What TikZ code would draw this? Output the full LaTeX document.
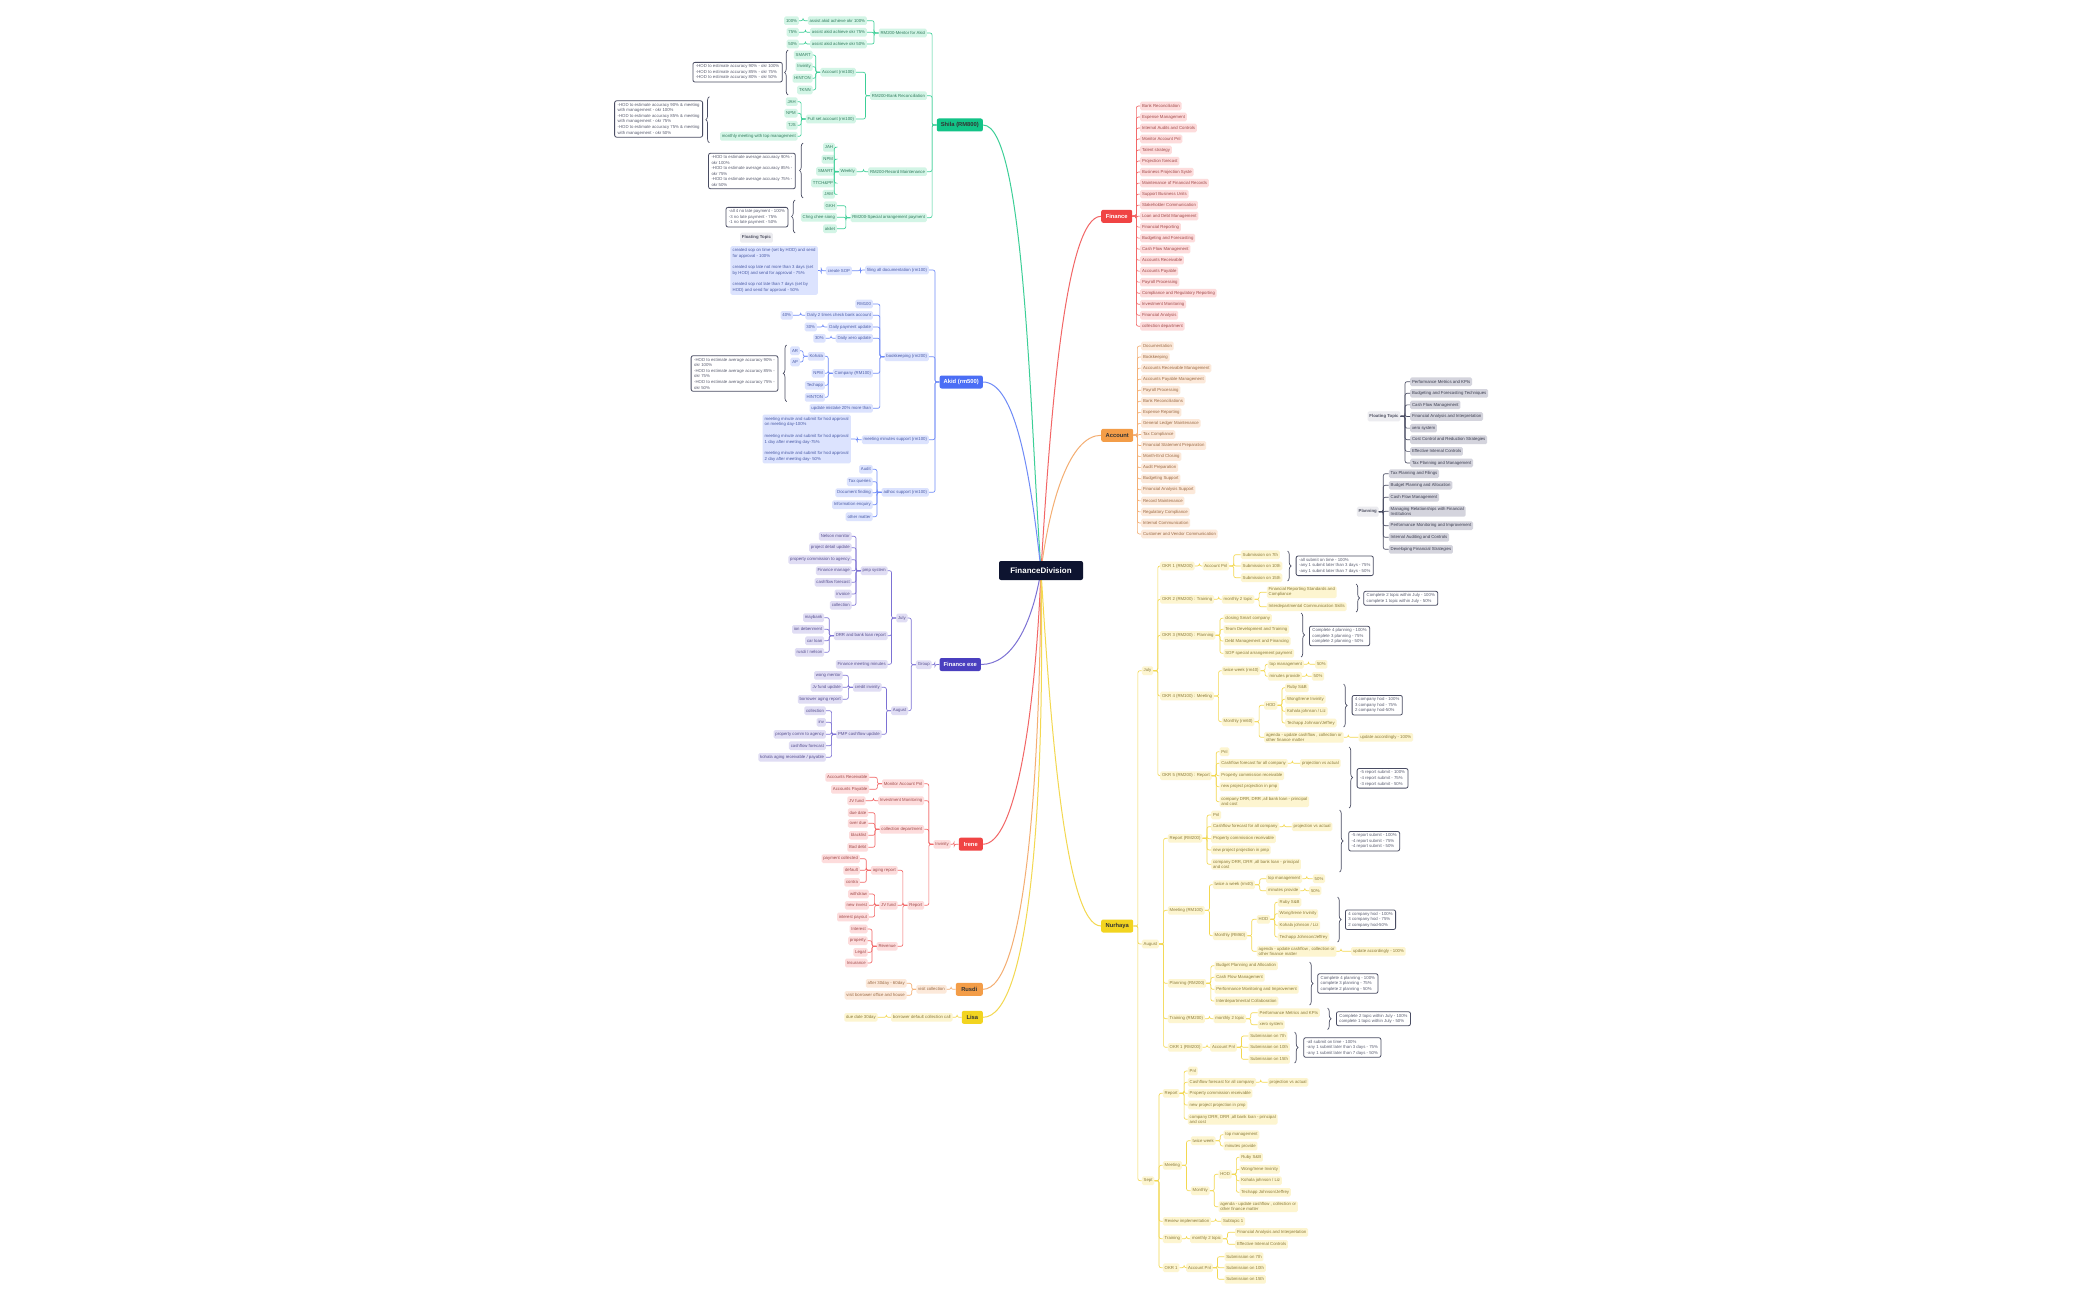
\documentclass[tikz,border=0pt]{standalone}
\usepackage{fontspec}
\setmainfont{Liberation Sans}
\usetikzlibrary{decorations.pathreplacing,calc}
\pgfdeclarelayer{bgzero}
\pgfdeclarelayer{background}
\pgfsetlayers{bgzero,background,main}
\definecolor{navy}{HTML}{0E1430}
\definecolor{gM}{HTML}{12C387}\definecolor{gL}{HTML}{3CCF97}\definecolor{gF}{HTML}{D3F5E6}\definecolor{gT}{HTML}{2F7A5C}
\definecolor{bM}{HTML}{4B6EF5}\definecolor{bL}{HTML}{6F8BF7}\definecolor{bF}{HTML}{DCE3FE}\definecolor{bT}{HTML}{4A5BA6}
\definecolor{pM}{HTML}{4A3FBF}\definecolor{pL}{HTML}{7D72D4}\definecolor{pF}{HTML}{E0DDF4}\definecolor{pT}{HTML}{57508F}
\definecolor{rM}{HTML}{F04444}\definecolor{rL}{HTML}{F26666}\definecolor{rF}{HTML}{FDDCDC}\definecolor{rT}{HTML}{A04A4A}
\definecolor{oM}{HTML}{F39D48}\definecolor{oL}{HTML}{F4AE72}\definecolor{oF}{HTML}{FCE9DA}\definecolor{oT}{HTML}{9A6A45}
\definecolor{yM}{HTML}{F2D420}\definecolor{yL}{HTML}{F3D850}\definecolor{yF}{HTML}{FDF5D0}\definecolor{yT}{HTML}{8A7A3A}
\definecolor{sumC}{HTML}{4A4D63}\definecolor{sumT}{HTML}{5A5D70}
\definecolor{ftF}{HTML}{ECECF0}\definecolor{ftT}{HTML}{505263}\definecolor{fcF}{HTML}{D4D4DD}\definecolor{fcT}{HTML}{3A3C4E}
\tikzset{
 sub/.style={rounded corners=1.5pt, inner xsep=1.8pt, inner ysep=1.2pt, minimum height=8.6pt, align=left, font=\fontsize{4.3}{5.2}\selectfont},
 gs/.style={sub, fill=gF, text=gT}, bs/.style={sub, fill=bF, text=bT}, ps/.style={sub, fill=pF, text=pT},
 rs/.style={sub, fill=rF, text=rT}, os/.style={sub, fill=oF, text=oT}, ys/.style={sub, fill=yF, text=yT},
 fts/.style={sub, fill=ftF, text=ftT, font=\fontsize{4.3}{5.2}\selectfont\bfseries, minimum height=10pt},
 fcs/.style={sub, fill=fcF, text=fcT},
 blk/.style={rounded corners=1.5pt, inner sep=2.2pt, align=left, font=\fontsize{4.3}{5.8}\selectfont},
 ln/.style={line width=0.65pt, rounded corners=2pt},
 gl/.style={ln, draw=gL}, bl/.style={ln, draw=bL}, pl/.style={ln, draw=pL}, rl/.style={ln, draw=rL},
 ol/.style={ln, draw=oL}, yl/.style={ln, draw=yL}, fl/.style={ln, draw=sumC},
 sum/.style={draw=sumC, line width=0.8pt, fill=white, rounded corners=2pt, align=left, font=\fontsize{4.3}{5.6}\selectfont, text=sumT, inner xsep=3pt, inner ysep=2.2pt},
 brc/.style={decorate, decoration={brace, amplitude=3.5pt}, draw=sumC, line width=0.7pt},
 mainnode/.style={rounded corners=2pt, minimum height=13pt, inner xsep=4pt, font=\fontsize{5.8}{7}\selectfont\bfseries},
 curve/.style={line width=1pt},
}
\newcommand\Lnode[4]{\node[#1,anchor=east] (#2) at (#3) {#4};}
\newcommand\Rnode[4]{\node[#1,anchor=west] (#2) at (#3) {#4};}
\newcommand\Lk[3]{\foreach \ch in {#3}{\draw[#1] (#2.west) -- ++(-4.5,0) |- (\ch.east);}}
\newcommand\Rk[3]{\foreach \ch in {#3}{\draw[#1] (#2.east) -- ++(4.5,0) |- (\ch.west);}}
\begin{document}
\begin{tikzpicture}[x=1pt,y=-1pt]
\begin{pgfonlayer}{bgzero}
\fill[white] (0,0) rectangle (2100,1300);
\end{pgfonlayer}
\useasboundingbox (0,0) rectangle (2100,1300);
% centre
\node[fill=navy, text=white, rounded corners=2pt, minimum width=84pt, minimum height=19pt, font=\fontsize{8}{9}\selectfont\bfseries] (fd) at (1041,570.5) {FinanceDivision};
% main branches
\node[mainnode, anchor=east, fill=gM, text=black!80] (shila) at (983,125) {Shila (RM800)};
\node[mainnode, anchor=east, fill=bM, text=white] (akid) at (983,382) {Akid (rm500)};
\node[mainnode, anchor=east, fill=pM, text=white] (fexe) at (981,664.5) {Finance exe};
\node[mainnode, anchor=east, fill=rM, text=white, minimum width=24pt] (irene) at (983,844.2) {Irene};
\node[mainnode, anchor=east, fill=oM, text=black!80, minimum width=27pt] (rusdi) at (983,989.3) {Rusdi};
\node[mainnode, anchor=east, fill=yM, text=black!80, minimum width=21pt] (lisa) at (983,1017.3) {Lisa};
\node[mainnode, anchor=west, fill=rM, text=white, minimum width=31pt] (finance) at (1101,216.3) {Finance};
\node[mainnode, anchor=west, fill=oM, text=black!80, minimum width=32pt] (account) at (1101,435.3) {Account};
\node[mainnode, anchor=west, fill=yM, text=black!80, minimum width=32pt] (nurhaya) at (1101,926) {Nurhaya};
\begin{pgfonlayer}{background}
\draw[curve, draw=gL] (fd.center) .. controls (1030,420) and (1025,125) .. (shila.east);
\draw[curve, draw=bL] (fd.center) .. controls (1030,470) and (1015,382) .. (akid.east);
\draw[curve, draw=pL] (fd.center) .. controls (1032,625) and (1012,664.5) .. (fexe.east);
\draw[curve, draw=rL] (fd.center) .. controls (1035,720) and (1015,844.2) .. (irene.east);
\draw[curve, draw=oL] (fd.center) .. controls (1040,780) and (1025,989.3) .. (rusdi.east);
\draw[curve, draw=yL] (fd.center) .. controls (1045,800) and (1030,1017.3) .. (lisa.east);
\draw[curve, draw=rL] (fd.center) .. controls (1050,420) and (1065,216.3) .. (finance.west);
\draw[curve, draw=oL] (fd.center) .. controls (1050,500) and (1070,435.3) .. (account.west);
\draw[curve, draw=yL] (fd.center) .. controls (1050,720) and (1065,926) .. (nurhaya.west);
\end{pgfonlayer}
% ================= Shila
\Lnode{gs}{sA}{927,33}{RM200-Mentor for Akid}
\Lnode{gs}{sA1}{867,20.7}{assist akid achieve okr 100\%}
\Lnode{gs}{sA2}{867,32.3}{assist akid achieve okr 75\%}
\Lnode{gs}{sA3}{867,44}{assist akid achieve okr 50\%}
\Lnode{gs}{sA1a}{799,20.7}{100\%}
\Lnode{gs}{sA2a}{799,32.3}{75\%}
\Lnode{gs}{sA3a}{799,44}{50\%}
\Lnode{gs}{sB}{927,95.7}{RM200-Bank Reconciliation}
\Lnode{gs}{sB1}{856,72.3}{Account (rm100)}
\Lnode{gs}{sB1a}{812.7,55}{SMART}
\Lnode{gs}{sB1b}{812.7,66.7}{Invinity}
\Lnode{gs}{sB1c}{812.7,78.3}{HINTON}
\Lnode{gs}{sB1d}{812.7,90}{TKNN}
\Lnode{gs}{sB2}{856,119}{Full set account (rm100)}
\Lnode{gs}{sB2a}{797.7,101.7}{JAH}
\Lnode{gs}{sB2b}{797.7,113.3}{NPM}
\Lnode{gs}{sB2c}{797.7,125.3}{TJS}
\Lnode{gs}{sB2d}{797.7,136.3}{monthly meeting with top management}
\Lnode{gs}{sC}{927,171.7}{RM200-Record Maintenance}
\Lnode{gs}{sC1}{856.7,171.7}{Weekly}
\Lnode{gs}{sC1a}{835,147.3}{JAH}
\Lnode{gs}{sC1b}{835,159.3}{NPM}
\Lnode{gs}{sC1c}{835,171.3}{SMART}
\Lnode{gs}{sC1d}{835,183}{TTCH\&PP}
\Lnode{gs}{sC1e}{835,194.3}{JAM}
\Lnode{gs}{sD}{927,217.7}{RM200-Special arrangement payment}
\Lnode{gs}{sD1}{837,205.7}{GKH}
\Lnode{gs}{sD2}{837,217.3}{Chng chee siong}
\Lnode{gs}{sD3}{837,228.7}{akilet}
\Lk{gl}{shila}{sA,sB,sC,sD}
\Lk{gl}{sA}{sA1,sA2,sA3}
\Lk{gl}{sA1}{sA1a}\Lk{gl}{sA2}{sA2a}\Lk{gl}{sA3}{sA3a}
\Lk{gl}{sB}{sB1,sB2}
\Lk{gl}{sB1}{sB1a,sB1b,sB1c,sB1d}
\Lk{gl}{sB2}{sB2a,sB2b,sB2c,sB2d}
\Lk{gl}{sC}{sC1}
\Lk{gl}{sC1}{sC1a,sC1b,sC1c,sC1d,sC1e}
\Lk{gl}{sD}{sD1,sD2,sD3}
\node[sum,anchor=east] (sBs1) at (782.7,72.2) {-HOD to estimate accuracy 90\% - okr 100\%\\-HOD to estimate accuracy 85\% - okr 75\%\\-HOD to estimate accuracy 80\% - okr 50\%};
\node[sum,anchor=east] (sBs2) at (703,119) {-HOD to estimate accuracy 90\% \& meeting\\with management - okr 100\%\\-HOD to estimate accuracy 85\% \& meeting\\with management - okr 75\%\\-HOD to estimate accuracy 75\% \& meeting\\with management - okr 50\%};
\node[sum,anchor=east] (sCs) at (795.7,171) {-HOD to estimate average accuracy 90\% -\\okr 100\%\\-HOD to estimate average accuracy 85\% -\\okr 75\%\\-HOD to estimate average accuracy 75\% -\\okr 50\%};
\node[sum,anchor=east] (sDs) at (788.3,217.2) {-all 4 no late payment - 100\%\\-3 no late payment - 75\%\\-1 no late payment - 50\%};
\draw[brc] (788,95) -- (788,50);
\draw[brc] (709.3,142.7) -- (709.3,96.7);
\draw[brc] (803,198) -- (803,143);
\draw[brc] (795,233) -- (795,200);
\node[fts] (flt1) at (756.5,237.7) {Floating Topic};
% ================= Akid
\Lnode{bs}{aA}{929,270}{filing all documentation (rm100)}
\Lnode{bs}{aA1}{852,270.7}{create SOP}
\node[blk, fill=bF, text=bT, anchor=east] (aA1t) at (818,270.5) {created sop on time (set by HOD) and send\\for approval - 100\%\\[5.6pt]created sop late not more than 3 days (set\\by HOD) and send for approval - 75\%\\[5.6pt]created sop not late than 7 days (set by\\HOD) and send for approval - 50\%};
\Lnode{bs}{aB}{929,356.7}{bookkeeping (rm200)}
\Lnode{bs}{aB1}{873,304}{RM100}
\Lnode{bs}{aB2}{873,315.3}{Daily 2 times check bank account}
\Lnode{bs}{aB2a}{793,315.3}{40\%}
\Lnode{bs}{aB3}{873,327}{Daily payment update}
\Lnode{bs}{aB3a}{817,327}{30\%}
\Lnode{bs}{aB4}{873,338.3}{Daily xero update}
\Lnode{bs}{aB4a}{825.7,338.3}{30\%}
\Lnode{bs}{aB5}{873,373.3}{Company (RM100)}
\Lnode{bs}{aB5a}{825,356.3}{Kohala}
\Lnode{bs}{aB5a1}{800,350.7}{AR}
\Lnode{bs}{aB5a2}{800,362}{AP}
\Lnode{bs}{aB5b}{825,373.3}{NPM}
\Lnode{bs}{aB5c}{825,385.3}{Techapp}
\Lnode{bs}{aB5d}{825,397.3}{HINTON}
\Lnode{bs}{aB6}{873,408.3}{update mistake 20\% more than}
\Lnode{bs}{aC}{929,439.7}{meeting minutes support (rm100)}
\node[blk, fill=bF, text=bT, anchor=east] (aC1) at (851,439) {meeting minute and submit for hod approval\\on meeting day-100\%\\[5.6pt]meeting minute and submit for hod approval\\1 day after meeting day-75\%\\[5.6pt]meeting minute and submit for hod approval\\2 day after meeting day- 50\%};
\Lnode{bs}{aD}{929,492.3}{adhoc support (rm100)}
\Lnode{bs}{aD1}{872.7,469.3}{Audit}
\Lnode{bs}{aD2}{872.7,481.7}{Tax queries}
\Lnode{bs}{aD3}{872.7,492.7}{Document finding}
\Lnode{bs}{aD4}{872.7,504.7}{Information enquiry}
\Lnode{bs}{aD5}{872.7,516.7}{other matter}
\Lk{bl}{akid}{aA,aB,aC,aD}
\Lk{bl}{aA}{aA1}\Lk{bl}{aA1}{aA1t}
\Lk{bl}{aB}{aB1,aB2,aB3,aB4,aB5,aB6}
\Lk{bl}{aB2}{aB2a}\Lk{bl}{aB3}{aB3a}\Lk{bl}{aB4}{aB4a}
\Lk{bl}{aB5}{aB5a,aB5b,aB5c,aB5d}
\Lk{bl}{aB5a}{aB5a1,aB5a2}
\Lk{bl}{aC}{aC1}
\Lk{bl}{aD}{aD1,aD2,aD3,aD4,aD5}
\node[sum,anchor=east] (aBs) at (778.3,373.5) {-HOD to estimate average accuracy 90\% -\\okr 100\%\\-HOD to estimate average accuracy 85\% -\\okr 75\%\\-HOD to estimate average accuracy 75\% -\\okr 50\%};
\draw[brc] (786.7,401.7) -- (786.7,345);
% ================= Finance exe
\Lnode{ps}{fG}{931.7,664.7}{Group}
\Lnode{ps}{fJ}{907.7,618}{July}
\Lnode{ps}{fAu}{908.3,710.7}{August}
\Lnode{ps}{fJ1}{887.7,570.7}{pmp system}
\Lnode{ps}{fJ1a}{851.7,536.3}{Nelson monitor}
\Lnode{ps}{fJ1b}{851.7,547.7}{project detail update}
\Lnode{ps}{fJ1c}{851.7,559.7}{property commission to agency}
\Lnode{ps}{fJ1d}{851.7,570.7}{Finance manage}
\Lnode{ps}{fJ1e}{851.7,582.3}{cashflow forecast}
\Lnode{ps}{fJ1f}{851.7,594}{invoice}
\Lnode{ps}{fJ1g}{851.7,605.3}{collection}
\Lnode{ps}{fJ2}{887.7,635.7}{DRR and bank loan report}
\Lnode{ps}{fJ2a}{824.3,617.7}{maybank}
\Lnode{ps}{fJ2b}{824.3,629.3}{ion debenment}
\Lnode{ps}{fJ2c}{824.3,640.7}{car loan}
\Lnode{ps}{fJ2d}{824.3,652.3}{rusdi / nelson}
\Lnode{ps}{fJ3}{887.7,664.3}{Finance meeting minutes}
\Lnode{ps}{fA1}{881.7,687.3}{credit invinity}
\Lnode{ps}{fA1a}{842.7,675.3}{wong mentor}
\Lnode{ps}{fA1b}{842.7,687.3}{Jv fund update}
\Lnode{ps}{fA1c}{842.7,699.3}{borrower aging report}
\Lnode{ps}{fA2}{881.7,734.3}{PMP cashflow update}
\Lnode{ps}{fA2a}{826,710.7}{collection}
\Lnode{ps}{fA2b}{826,722.3}{inv}
\Lnode{ps}{fA2c}{826,734.3}{property comm to agency}
\Lnode{ps}{fA2d}{826,745.7}{cashflow forecast}
\Lnode{ps}{fA2e}{826,757.3}{kohala aging receivable / payable}
\Lk{pl}{fexe}{fG}
\Lk{pl}{fG}{fJ,fAu}
\Lk{pl}{fJ}{fJ1,fJ2,fJ3}
\Lk{pl}{fJ1}{fJ1a,fJ1b,fJ1c,fJ1d,fJ1e,fJ1f,fJ1g}
\Lk{pl}{fJ2}{fJ2a,fJ2b,fJ2c,fJ2d}
\Lk{pl}{fAu}{fA1,fA2}
\Lk{pl}{fA1}{fA1a,fA1b,fA1c}
\Lk{pl}{fA2}{fA2a,fA2b,fA2c,fA2d,fA2e}
% ================= Irene
\Lnode{rs}{iI}{950.7,844.3}{Invinity}
\Lnode{rs}{iM}{924.3,783.7}{Monitor Account Pnl}
\Lnode{rs}{iM1}{869.3,777.3}{Accounts Receivable}
\Lnode{rs}{iM2}{869.3,789.3}{Accounts Payable}
\Lnode{rs}{iV}{924.3,800.7}{Investment Monitoring}
\Lnode{rs}{iV1}{865.7,800.7}{JV fund}
\Lnode{rs}{iC}{924.3,829.3}{collection department}
\Lnode{rs}{iC1}{868.3,812.7}{due date}
\Lnode{rs}{iC2}{868.3,823.3}{over due}
\Lnode{rs}{iC3}{868.3,835.3}{blacklist}
\Lnode{rs}{iC4}{868.3,847.3}{Bad debt}
\Lnode{rs}{iR}{924.3,905.3}{Report}
\Lnode{rs}{iR1}{897.7,870.3}{aging report}
\Lnode{rs}{iR1a}{860,858.7}{payment collected}
\Lnode{rs}{iR1b}{860,870.3}{default}
\Lnode{rs}{iR1c}{860,882.3}{contra}
\Lnode{rs}{iR2}{897.7,905.3}{JV fund}
\Lnode{rs}{iR2a}{869,894}{withdraw}
\Lnode{rs}{iR2b}{869,905.3}{new invest}
\Lnode{rs}{iR2c}{869,917}{interest payout}
\Lnode{rs}{iR3}{897.7,946.3}{Revenue}
\Lnode{rs}{iR3a}{867.7,929}{Interest}
\Lnode{rs}{iR3b}{867.7,940.7}{property}
\Lnode{rs}{iR3c}{867.7,952.3}{Legal}
\Lnode{rs}{iR3d}{867.7,963}{Insurance}
\Lk{rl}{irene}{iI}
\Lk{rl}{iI}{iM,iV,iC,iR}
\Lk{rl}{iM}{iM1,iM2}\Lk{rl}{iV}{iV1}
\Lk{rl}{iC}{iC1,iC2,iC3,iC4}
\Lk{rl}{iR}{iR1,iR2,iR3}
\Lk{rl}{iR1}{iR1a,iR1b,iR1c}
\Lk{rl}{iR2}{iR2a,iR2b,iR2c}
\Lk{rl}{iR3}{iR3a,iR3b,iR3c,iR3d}
% ================= Rusdi, Lisa
\Lnode{os}{rV}{946.7,989.3}{visit collection}
\Lnode{os}{rV1}{906.7,983.3}{after 30day - 60day}
\Lnode{os}{rV2}{906.7,995.3}{visit borrower office and house}
\Lk{ol}{rusdi}{rV}\Lk{ol}{rV}{rV1,rV2}
\Lnode{ys}{lB}{952.7,1017.3}{borrower default collection call}
\Lnode{ys}{lB1}{877.7,1017.3}{due date 30day}
\Lk{yl}{lisa}{lB}\Lk{yl}{lB}{lB1}
% ================= Finance list
\foreach \t [count=\i] in {Bank Reconciliation,Expense Management,Internal Audits and Controls,Monitor Account Pnl,Talent strategy,Projection forecast,Business Projection Syste,Maintenance of Financial Records,Support Business Units,Stakeholder Communication,Loan and Debt Management,Financial Reporting,Budgeting and Forecasting,Cash Flow Management,Accounts Receivable,Accounts Payable,Payroll Processing,Compliance and Regulatory Reporting,Investment Monitoring,Financial Analysis,collection department}
 {\node[rs,anchor=west] (fin\i) at (1140,{95+11.01*\i}) {\t};
  \draw[rl] (finance.east) -- ++(4,0) |- (fin\i.west);}
% ================= Account list
\foreach \t [count=\i] in {Documentation,Bookkeeping,Accounts Receivable Management,Accounts Payable Management,Payroll Processing,Bank Reconciliations,Expense Reporting,General Ledger Maintenance,Tax Compliance,Financial Statement Preparation,Month-End Closing,Audit Preparation,Budgeting Support,Financial Analysis Support,Record Maintenance,Regulatory Compliance,Internal Communication,Customer and Vendor Communication}
 {\node[os,anchor=west] (acc\i) at (1141,{334.94+11.06*\i}) {\t};
  \draw[ol] (account.east) -- ++(4,0) |- (acc\i.west);}
% ================= Floating topic / Planning (right)
\node[fts] (flt2) at (1384,416.3) {Floating Topic};
\foreach \t [count=\i] in {Performance Metrics and KPIs,Budgeting and Forecasting Techniques,Cash Flow Management,Financial Analysis and Interpretation,xero system,Cost Control and Reduction Strategies,Effective Internal Controls,Tax Planning and Management}
 {\node[fcs,anchor=west] (ftc\i) at (1410,{370.09+11.61*\i}) {\t};
  \draw[fl] (flt2.east) -- ++(4.5,0) |- (ftc\i.west);}
\node[fts] (plan) at (1367.7,511.7) {Planning};
\Rnode{fcs}{pl1}{1388.7,473.7}{Tax Planning and Filings}
\Rnode{fcs}{pl2}{1388.7,485.3}{Budget Planning and Allocation}
\Rnode{fcs}{pl3}{1388.7,497.3}{Cash Flow Management}
\Rnode{fcs}{pl4}{1388.7,511.3}{Managing Relationships with Financial\\Institutions}
\Rnode{fcs}{pl5}{1388.7,525.7}{Performance Monitoring and Improvement}
\Rnode{fcs}{pl6}{1388.7,537.3}{Internal Auditing and Controls}
\Rnode{fcs}{pl7}{1388.7,549.3}{Developing Financial Strategies}
\Rk{fl}{plan}{pl1,pl2,pl3,pl4,pl5,pl6,pl7}
% ================= Nurhaya : July
\Rnode{ys}{jul}{1141.7,670.7}{July}
\Rnode{ys}{j1}{1160,566}{OKR 1 (RM200)}
\Rnode{ys}{j1a}{1202.3,566}{Account Pnl}
\Rnode{ys}{j1a1}{1240.7,554.7}{Submission on 7th}
\Rnode{ys}{j1a2}{1240.7,566}{Submission on 10th}
\Rnode{ys}{j1a3}{1240.7,577.7}{Submission on 15th}
\Rnode{ys}{j2}{1160,599.3}{OKR 2 (RM200) : Training}
\Rnode{ys}{j2a}{1221.7,599.3}{monthly 2 topic}
\Rnode{ys}{j2a1}{1266.7,592.2}{Financial Reporting Standards and\\Compliance}
\Rnode{ys}{j2a2}{1266.7,606.7}{Interdepartmental Communication Skills}
\Rnode{ys}{j3}{1160,635.3}{OKR 3 (RM200) : Planning}
\Rnode{ys}{j3a}{1223.3,618.3}{closing Smart company}
\Rnode{ys}{j3b}{1223.3,629.3}{Team Development and Training}
\Rnode{ys}{j3c}{1223.3,641}{Debt Management and Financing}
\Rnode{ys}{j3d}{1223.3,653.3}{SOP special arrangement payment}
\Rnode{ys}{j4}{1160,696}{OKR 4 (RM100) : Meeting}
\Rnode{ys}{j4a}{1221.7,670.7}{twice week (rm40)}
\Rnode{ys}{j4a1}{1267.7,664.3}{top management}
\Rnode{ys}{j4a1a}{1315,664.3}{50\%}
\Rnode{ys}{j4a2}{1267.7,676.3}{minutes provide}
\Rnode{ys}{j4a2a}{1311.7,676.3}{50\%}
\Rnode{ys}{j4b}{1221.7,721.7}{Monthly (rm60)}
\Rnode{ys}{j4b1}{1264,705.3}{HOD}
\Rnode{ys}{j4h1}{1285,687.7}{Ruby S\&B}
\Rnode{ys}{j4h2}{1285,699.3}{Wong/Irene Invinity}
\Rnode{ys}{j4h3}{1285,711.3}{Kohala johnson / Liz}
\Rnode{ys}{j4h4}{1285,723}{Techapp Johnson/Jeffrey}
\Rnode{ys}{j4b2}{1264,737.3}{agenda - update cashflow , collection or\\other finance matter}
\Rnode{ys}{j4b2a}{1358.3,737.3}{update accordingly - 100\%}
\Rnode{ys}{j5}{1160,775.7}{OKR 5 (RM200) : Report}
\Rnode{ys}{j5a}{1219.3,751.7}{Pnl}
\Rnode{ys}{j5b}{1219.3,763.3}{Cashflow forecast for all company}
\Rnode{ys}{j5b1}{1300,763.3}{projection vs actual}
\Rnode{ys}{j5c}{1219.3,775.7}{Property commission receivable}
\Rnode{ys}{j5d}{1219.3,786.7}{new project projection in pmp}
\Rnode{ys}{j5e}{1219.3,801.7}{company DRR, DRR ,all bank loan - principal\\and cost}
\Rk{yl}{jul}{j1,j2,j3,j4,j5}
\Rk{yl}{j1}{j1a}\Rk{yl}{j1a}{j1a1,j1a2,j1a3}
\Rk{yl}{j2}{j2a}\Rk{yl}{j2a}{j2a1,j2a2}
\Rk{yl}{j3}{j3a,j3b,j3c,j3d}
\Rk{yl}{j4}{j4a,j4b}\Rk{yl}{j4a}{j4a1,j4a2}\Rk{yl}{j4a1}{j4a1a}\Rk{yl}{j4a2}{j4a2a}
\Rk{yl}{j4b}{j4b1,j4b2}\Rk{yl}{j4b1}{j4h1,j4h2,j4h3,j4h4}\Rk{yl}{j4b2}{j4b2a}
\Rk{yl}{j5}{j5a,j5b,j5c,j5d,j5e}\Rk{yl}{j5b}{j5b1}
\draw[brc] (1287.5,551) -- (1287.5,581);
\node[sum,anchor=west] (j1s) at (1295.7,565.8) {-all submit on time - 100\%\\-any 1 submit later than 3 days - 75\%\\-any 1 submit later than 7 days - 50\%};
\draw[brc] (1356,584) -- (1356,612);
\node[sum,anchor=west] (j2s) at (1363.3,598.3) {Complete 2 topic within July - 100\%\\complete 1 topic within July - 50\%};
\draw[brc] (1301,613) -- (1301,657);
\node[sum,anchor=west] (j3s) at (1309,636) {Complete 4 planning - 100\%\\complete 3 planning - 75\%\\complete 2 planning - 50\%};
\draw[brc] (1343.5,684) -- (1343.5,727);
\node[sum,anchor=west] (j4s) at (1351.7,705.2) {4 company hod - 100\%\\3 company hod - 75\%\\2 company hod-50\%};
\draw[brc] (1349,747) -- (1349,808);
\node[sum,anchor=west] (j5s) at (1356.7,778.3) {-5 report submit - 100\%\\-4 report submit - 75\%\\-3 report submit - 50\%};
% ================= August
\Rnode{ys}{aug}{1141.7,944}{August}
\Rnode{ys}{g1}{1167.7,838.3}{Report (RM200)}
\Rnode{ys}{g1a}{1211,815}{Pnl}
\Rnode{ys}{g1b}{1211,826.7}{Cashflow forecast for all company}
\Rnode{ys}{g1b1}{1291.7,826.7}{projection vs actual}
\Rnode{ys}{g1c}{1211,838.7}{Property commission receivable}
\Rnode{ys}{g1d}{1211,850}{new project projection in pmp}
\Rnode{ys}{g1e}{1211,864.3}{company DRR, DRR ,all bank loan - principal\\and cost}
\Rnode{ys}{g2}{1167.7,910.3}{Meeting (RM100)}
\Rnode{ys}{g2a}{1212.7,884.7}{twice a week (rm40)}
\Rnode{ys}{g2a1}{1266,878.7}{top management}
\Rnode{ys}{g2a1a}{1312.7,878.7}{50\%}
\Rnode{ys}{g2a2}{1266,890.7}{minutes provide}
\Rnode{ys}{g2a2a}{1309,890.7}{50\%}
\Rnode{ys}{g2b}{1212.7,935.7}{Monthly (RM60)}
\Rnode{ys}{g2b1}{1256.7,919.3}{HOD}
\Rnode{ys}{g2h1}{1277.7,902.3}{Ruby S\&B}
\Rnode{ys}{g2h2}{1277.7,913.7}{Wong/Irene Invinity}
\Rnode{ys}{g2h3}{1277.7,925.3}{Kohala johnson / Liz}
\Rnode{ys}{g2h4}{1277.7,937}{Techapp Johnson/Jeffrey}
\Rnode{ys}{g2b2}{1256.7,951.3}{agenda - update cashflow , collection or\\other finance matter}
\Rnode{ys}{g2b2a}{1351,951.3}{update accordingly - 100\%}
\Rnode{ys}{g3}{1167.7,983.3}{Planning (RM200)}
\Rnode{ys}{g3a}{1214.3,965.7}{Budget Planning and Allocation}
\Rnode{ys}{g3b}{1214.3,977.3}{Cash Flow Management}
\Rnode{ys}{g3c}{1214.3,989.3}{Performance Monitoring and Improvement}
\Rnode{ys}{g3d}{1214.3,1001}{Interdepartmental Collaboration}
\Rnode{ys}{g4}{1167.7,1018.7}{Training (RM200)}
\Rnode{ys}{g4a}{1213.3,1018.7}{monthly 2 topic}
\Rnode{ys}{g4a1}{1257.7,1012.7}{Performance Metrics and KPIs}
\Rnode{ys}{g4a2}{1257.7,1024.7}{xero system}
\Rnode{ys}{g5}{1167.7,1047.3}{OKR 1 (RM200)}
\Rnode{ys}{g5a}{1210,1047.3}{Account Pnl}
\Rnode{ys}{g5a1}{1248.3,1036}{Submission on 7th}
\Rnode{ys}{g5a2}{1248.3,1047.3}{Submission on 10th}
\Rnode{ys}{g5a3}{1248.3,1059.3}{Submission on 15th}
\Rk{yl}{aug}{g1,g2,g3,g4,g5}
\Rk{yl}{g1}{g1a,g1b,g1c,g1d,g1e}\Rk{yl}{g1b}{g1b1}
\Rk{yl}{g2}{g2a,g2b}\Rk{yl}{g2a}{g2a1,g2a2}\Rk{yl}{g2a1}{g2a1a}\Rk{yl}{g2a2}{g2a2a}
\Rk{yl}{g2b}{g2b1,g2b2}\Rk{yl}{g2b1}{g2h1,g2h2,g2h3,g2h4}\Rk{yl}{g2b2}{g2b2a}
\Rk{yl}{g3}{g3a,g3b,g3c,g3d}
\Rk{yl}{g4}{g4a}\Rk{yl}{g4a}{g4a1,g4a2}
\Rk{yl}{g5}{g5a}\Rk{yl}{g5a}{g5a1,g5a2,g5a3}
\draw[brc] (1339.5,810) -- (1339.5,872);
\node[sum,anchor=west] (g1s) at (1348.3,841.2) {-5 report submit - 100\%\\-4 report submit - 75\%\\-4 report submit - 50\%};
\draw[brc] (1337.5,897) -- (1337.5,942);
\node[sum,anchor=west] (g2s) at (1345,919.7) {4 company hod - 100\%\\3 company hod - 75\%\\2 company hod-50\%};
\draw[brc] (1309.5,962) -- (1309.5,1005);
\node[sum,anchor=west] (g3s) at (1317.3,983.5) {Complete 4 planning - 100\%\\complete 3 planning - 75\%\\complete 2 planning - 50\%};
\draw[brc] (1327.5,1008) -- (1327.5,1029.5);
\node[sum,anchor=west] (g4s) at (1336,1018.7) {Complete 2 topic within July - 100\%\\complete 1 topic within July - 50\%};
\draw[brc] (1294.5,1032) -- (1294.5,1063);
\node[sum,anchor=west] (g5s) at (1303.3,1047.5) {-all submit on time - 100\%\\-any 1 submit later than 3 days - 75\%\\-any 1 submit later than 7 days - 50\%};
% ================= Sept
\Rnode{ys}{sep}{1141.7,1180.7}{Sept}
\Rnode{ys}{e1}{1162.7,1093.3}{Report}
\Rnode{ys}{e1a}{1187.7,1071}{Pnl}
\Rnode{ys}{e1b}{1187.7,1082.3}{Cashflow forecast for all company}
\Rnode{ys}{e1b1}{1267.7,1082.3}{projection vs actual}
\Rnode{ys}{e1c}{1187.7,1093.3}{Property commission receivable}
\Rnode{ys}{e1d}{1187.7,1105}{new project projection in pmp}
\Rnode{ys}{e1e}{1187.7,1119.3}{company DRR, DRR ,all bank loan - principal\\and cost}
\Rnode{ys}{e2}{1162.7,1165.3}{Meeting}
\Rnode{ys}{e2a}{1190.7,1140.7}{twice week}
\Rnode{ys}{e2a1}{1223.3,1134.7}{top management}
\Rnode{ys}{e2a2}{1223.3,1146}{minutes provide}
\Rnode{ys}{e2b}{1190.7,1190.7}{Monthly}
\Rnode{ys}{e2b1}{1218.3,1174.3}{HOD}
\Rnode{ys}{e2h1}{1239.3,1157.3}{Ruby S\&B}
\Rnode{ys}{e2h2}{1239.3,1169.3}{Wong/Irene Invinity}
\Rnode{ys}{e2h3}{1239.3,1180.7}{Kohala johnson / Liz}
\Rnode{ys}{e2h4}{1239.3,1192.3}{Techapp Johnson/Jeffrey}
\Rnode{ys}{e2b2}{1218.3,1206.7}{agenda - update cashflow , collection or\\other finance matter}
\Rnode{ys}{e3}{1162.7,1221.3}{Review implementation}
\Rnode{ys}{e3a}{1221,1221.3}{Subtopic 1}
\Rnode{ys}{e4}{1162.7,1238.7}{Training}
\Rnode{ys}{e4a}{1190,1238.7}{monthly 2 topic}
\Rnode{ys}{e4a1}{1235,1232.3}{Financial Analysis and Interpretation}
\Rnode{ys}{e4a2}{1235,1244.3}{Effective Internal Controls}
\Rnode{ys}{e5}{1162.7,1267.7}{OKR 1}
\Rnode{ys}{e5a}{1186,1267.7}{Account Pnl}
\Rnode{ys}{e5a1}{1224.3,1256.7}{Submission on 7th}
\Rnode{ys}{e5a2}{1224.3,1267.7}{Submission on 10th}
\Rnode{ys}{e5a3}{1224.3,1279.3}{Submission on 15th}
\Rk{yl}{sep}{e1,e2,e3,e4,e5}
\Rk{yl}{e1}{e1a,e1b,e1c,e1d,e1e}\Rk{yl}{e1b}{e1b1}
\Rk{yl}{e2}{e2a,e2b}\Rk{yl}{e2a}{e2a1,e2a2}
\Rk{yl}{e2b}{e2b1,e2b2}\Rk{yl}{e2b1}{e2h1,e2h2,e2h3,e2h4}
\Rk{yl}{e3}{e3a}
\Rk{yl}{e4}{e4a}\Rk{yl}{e4a}{e4a1,e4a2}
\Rk{yl}{e5}{e5a}\Rk{yl}{e5a}{e5a1,e5a2,e5a3}
\Rk{yl}{nurhaya}{jul,aug,sep}
\end{tikzpicture}
\end{document}
